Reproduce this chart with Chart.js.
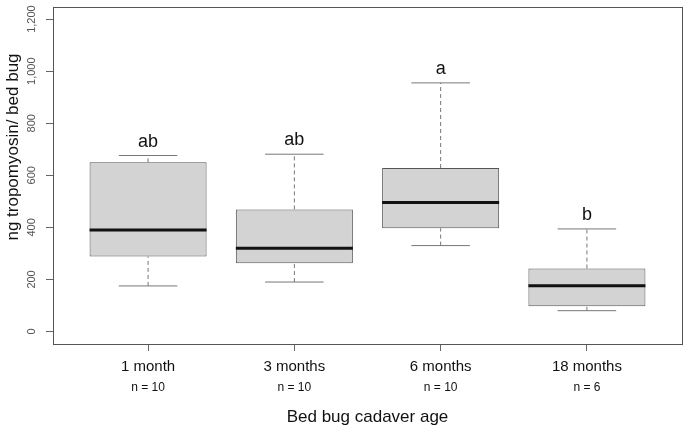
<!DOCTYPE html>
<html>
<head>
<meta charset="utf-8">
<script src="https://cdn.jsdelivr.net/npm/chart.js@4.4.1/dist/chart.umd.min.js"></script>
<style>
  body { margin: 0; background: #fff; }
  #wrap { width: 685px; height: 429px; }
</style>
</head>
<body>
<div id="wrap"><canvas id="chart"></canvas></div>
<script>
// values
const categories = ['1 month', '3 months', '6 months', '18 months'];
const nLabels = ['n = 10', 'n = 10', 'n = 10', 'n = 6'];
const lowerWhisker = [175, 190, 330, 80];
const q1 = [288, 262, 397, 97];
const median = [390, 320, 496, 176];
const q3 = [650, 469, 628, 242];
const upperWhisker = [676, 681, 955, 394];
const letters = ['ab', 'ab', 'a', 'b'];
const yTicks = [0, 200, 400, 600, 800, 1000, 1200];

const FONT = '"Liberation Sans", Arial, Helvetica, sans-serif';
const positions = categories.map((c, i) => i + 1);

// dashed whisker segments, a null y breaks the line between groups
function whiskerLine(from, to) {
  let pts = [];
  positions.forEach((x, i) => {
    pts.push({x: x, y: from[i]}, {x: x, y: to[i]}, {x: x, y: null});
  });
  return pts;
}

function halfWidth(units) {
  return function(ctx) {
    const sx = ctx.chart.scales.x;
    return sx.getPixelForValue(1 + units) - sx.getPixelForValue(1);
  };
}

const frameAndText = {
  id: 'frameAndText',
  afterDatasetsDraw(chart) {
    const {ctx, chartArea: a, scales} = chart;
    ctx.save();
    // box round the plot region
    ctx.strokeStyle = '#555';
    ctx.lineWidth = 1;
    ctx.strokeRect(Math.round(a.left) + 0.5, Math.round(a.top) + 0.5,
      Math.round(a.right - a.left), Math.round(a.bottom - a.top));
    // significance letters above the upper whiskers
    ctx.fillStyle = '#111';
    ctx.font = '18px ' + FONT;
    ctx.textAlign = 'center';
    ctx.textBaseline = 'alphabetic';
    letters.forEach((l, i) => {
      ctx.fillText(l, scales.x.getPixelForValue(positions[i]),
        scales.y.getPixelForValue(upperWhisker[i]) - 9);
    });
    // y axis title
    ctx.translate(13, 147);
    ctx.rotate(-Math.PI / 2);
    ctx.font = '17px ' + FONT;
    ctx.textBaseline = 'middle';
    ctx.fillText('ng tropomyosin/ bed bug', 0, 0);
    ctx.restore();
  }
};

// lower order is drawn later (on top)
const data = {
  datasets: [
    {
      type: 'line',
      order: 2,
      data: whiskerLine(q3, upperWhisker),
      borderColor: '#777',
      borderWidth: 1,
      borderDash: [4, 3],
      pointRadius: 0,
      spanGaps: false
    },
    {
      type: 'line',
      order: 2,
      data: whiskerLine(lowerWhisker, q1),
      borderColor: '#777',
      borderWidth: 1,
      borderDash: [4, 3],
      pointRadius: 0,
      spanGaps: false
    },
    {
      type: 'bar',
      order: 3,
      data: positions.map((x, i) => ({x: x, y: [q1[i], q3[i]]})),
      backgroundColor: '#d3d3d3',
      borderColor: '#555',
      borderWidth: 1,
      borderSkipped: false,
      categoryPercentage: 1,
      barPercentage: 0.8
    },
    {
      type: 'scatter',
      order: 0,
      data: positions.map((x, i) => ({x: x, y: median[i]})),
      pointStyle: 'line',
      pointRadius: halfWidth(0.4),
      borderColor: '#111',
      pointBorderColor: '#111',
      pointBorderWidth: 3
    },
    {
      type: 'scatter',
      order: 1,
      data: positions.map((x, i) => ({x: x, y: upperWhisker[i]}))
        .concat(positions.map((x, i) => ({x: x, y: lowerWhisker[i]}))),
      pointStyle: 'line',
      pointRadius: halfWidth(0.2),
      borderColor: '#777',
      pointBorderColor: '#777',
      pointBorderWidth: 1
    }
  ]
};

const config = {
  type: 'bar',
  data: data,
  options: {
    responsive: true,
    maintainAspectRatio: false,
    animation: false,
    events: [],
    layout: { padding: { top: 5, right: 3, left: 0, bottom: 0 } },
    plugins: { legend: { display: false }, tooltip: { enabled: false } },
    scales: {
      x: {
        type: 'linear',
        position: 'bottom',
        weight: 0,
        min: 0.35,
        max: 4.65,
        offset: false,
        afterBuildTicks: s => { s.ticks = positions.map(v => ({value: v})); },
        afterFit: s => { s.height = 33; },
        ticks: {
          callback: v => categories[v - 1],
          padding: 7,
          color: '#111',
          font: { family: FONT, size: 15 },
          maxRotation: 0
        },
        grid: { display: true, drawOnChartArea: false, offset: false, tickLength: 7, color: '#666' },
        border: { display: false }
      },
      xn: {
        type: 'linear',
        position: 'bottom',
        weight: 1,
        min: 0.35,
        max: 4.65,
        offset: false,
        afterBuildTicks: s => { s.ticks = positions.map(v => ({value: v})); },
        afterFit: s => { s.height = 52; },
        ticks: {
          callback: v => nLabels[v - 1],
          padding: 3,
          color: '#111',
          font: { family: FONT, size: 12 },
          maxRotation: 0
        },
        grid: { display: false, drawTicks: false },
        border: { display: false },
        title: {
          display: true,
          text: 'Bed bug cadaver age',
          color: '#111',
          font: { family: FONT, size: 17 },
          padding: { top: 0, bottom: 1 }
        }
      },
      y: {
        type: 'linear',
        min: -48,
        max: 1248,
        afterBuildTicks: s => { s.ticks = yTicks.map(v => ({value: v})); },
        afterFit: s => { s.width = 53; },
        ticks: {
          callback: v => v.toLocaleString('en-US'),
          padding: 0,
          minRotation: 90,
          maxRotation: 90,
          crossAlign: 'center',
          color: '#555',
          font: { family: FONT, size: 11 }
        },
        grid: { display: true, drawOnChartArea: false, tickLength: 7, color: '#666' },
        border: { display: false }
      }
    }
  },
  plugins: [frameAndText]
};

const myChart = new Chart(document.getElementById('chart'), config);
</script>
</body>
</html>
